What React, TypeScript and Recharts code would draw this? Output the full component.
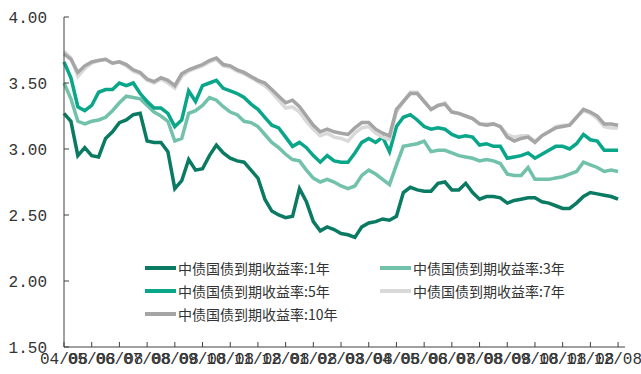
import { Legend, Line, LineChart, XAxis, YAxis } from "recharts";

// month tick labels (one per month, first at index 0)
const monthLabels = [
  "04/08", "05/08", "06/08", "07/08", "08/08", "09/08", "10/08", "11/08", "12/08", "01/08", "02/08",
  "03/08", "04/08", "05/08", "06/08", "07/08", "08/08", "09/08", "10/08", "11/08", "12/08",
];
const yTicks = [1.5, 2, 2.5, 3, 3.5, 4];

// weekly readings (4 per month)
const y1 = [
  3.27, 3.21, 2.95, 3.01, 2.95, 2.94, 3.08, 3.13, 3.2, 3.22, 3.26, 3.27, 3.06, 3.05, 3.05, 2.98, 2.7, 2.76, 2.92, 2.84,
  2.85, 2.95, 3.03, 2.97, 2.93, 2.91, 2.9, 2.84, 2.78, 2.62, 2.53, 2.5, 2.48, 2.49, 2.7, 2.6, 2.45, 2.38, 2.41, 2.39,
  2.36, 2.35, 2.33, 2.41, 2.44, 2.45, 2.47, 2.46, 2.49, 2.67, 2.71, 2.69, 2.68, 2.68, 2.74, 2.75, 2.69, 2.69, 2.74, 2.67,
  2.62, 2.64, 2.64, 2.63, 2.59, 2.61, 2.62, 2.63, 2.63, 2.6, 2.59, 2.57, 2.55, 2.55, 2.59, 2.64, 2.67, 2.66, 2.65, 2.64,
  2.62,
];
const y3 = [
  3.5, 3.38, 3.21, 3.19, 3.21, 3.22, 3.24, 3.29, 3.35, 3.4, 3.39, 3.38, 3.33, 3.28, 3.25, 3.21, 3.06, 3.08, 3.27, 3.29,
  3.33, 3.39, 3.37, 3.32, 3.28, 3.26, 3.21, 3.2, 3.17, 3.11, 3.05, 3.01, 2.96, 2.92, 2.91, 2.84, 2.78, 2.75, 2.77, 2.75,
  2.72, 2.7, 2.72, 2.8, 2.84, 2.81, 2.77, 2.73, 2.88, 3.02, 3.03, 3.04, 3.06, 2.98, 2.99, 2.99, 2.97, 2.95, 2.94, 2.93,
  2.91, 2.92, 2.91, 2.89, 2.81, 2.8, 2.8, 2.86, 2.77, 2.77, 2.77, 2.78, 2.79, 2.81, 2.83, 2.9, 2.88, 2.86, 2.83, 2.84,
  2.83,
];
const y5 = [
  3.66, 3.54, 3.32, 3.29, 3.33, 3.43, 3.45, 3.45, 3.5, 3.48, 3.5, 3.42, 3.36, 3.31, 3.31, 3.27, 3.17, 3.22, 3.44, 3.36,
  3.48, 3.5, 3.52, 3.46, 3.44, 3.42, 3.39, 3.34, 3.3, 3.24, 3.18, 3.16, 3.09, 3.02, 3.05, 3.01, 2.95, 2.9, 2.95, 2.91,
  2.9, 2.9, 2.97, 3.05, 3.08, 3.05, 3.09, 2.98, 3.17, 3.24, 3.26, 3.22, 3.17, 3.15, 3.16, 3.15, 3.11, 3.09, 3.1, 3.09,
  3.03, 3.04, 3.02, 3.02, 2.93, 2.94, 2.95, 2.97, 2.93, 2.96, 2.99, 3.02, 3.02, 3.0, 3.04, 3.11, 3.07, 3.06, 2.99, 2.99,
  2.99,
];
const y7 = [
  3.74, 3.69, 3.55, 3.61, 3.65, 3.67, 3.68, 3.65, 3.66, 3.63, 3.59, 3.57, 3.52, 3.5, 3.53, 3.5, 3.46, 3.55, 3.59, 3.61,
  3.63, 3.66, 3.68, 3.63, 3.62, 3.59, 3.57, 3.54, 3.51, 3.48, 3.43, 3.37, 3.31, 3.32, 3.28, 3.21, 3.15, 3.1, 3.12, 3.09,
  3.08, 3.06, 3.12, 3.16, 3.17, 3.12, 3.09, 3.07, 3.28, 3.36, 3.43, 3.43, 3.36, 3.3, 3.33, 3.35, 3.28, 3.27, 3.25, 3.23,
  3.19, 3.19, 3.19, 3.17, 3.11, 3.09, 3.1, 3.1, 3.06, 3.1, 3.13, 3.17, 3.18, 3.18, 3.24, 3.29, 3.27, 3.23, 3.17, 3.16,
  3.16,
];
const y10 = [
  3.72, 3.68, 3.58, 3.63, 3.66, 3.67, 3.68, 3.65, 3.66, 3.64, 3.6, 3.58, 3.53, 3.51, 3.54, 3.52, 3.48, 3.57, 3.6, 3.62,
  3.64, 3.67, 3.69, 3.64, 3.63, 3.6, 3.58, 3.55, 3.52, 3.5, 3.45, 3.4, 3.35, 3.37, 3.32, 3.25, 3.18, 3.13, 3.15, 3.13,
  3.12, 3.11, 3.16, 3.2, 3.2, 3.15, 3.12, 3.1, 3.3, 3.36, 3.42, 3.42, 3.36, 3.3, 3.33, 3.34, 3.28, 3.27, 3.25, 3.23,
  3.19, 3.18, 3.19, 3.17, 3.09, 3.06, 3.08, 3.09, 3.05, 3.1, 3.13, 3.16, 3.17, 3.18, 3.24, 3.3, 3.28, 3.25, 3.19, 3.19,
  3.18,
];

const data = y1.map((v, i) => ({ t: i / 4, y1: v, y3: y3[i], y5: y5[i], y7: y7[i], y10: y10[i] }));

const series = [
  { key: "y1", name: "中债国债到期收益率:1年", color: "#0b7a63" },
  { key: "y3", name: "中债国债到期收益率:3年", color: "#72c1aa" },
  { key: "y5", name: "中债国债到期收益率:5年", color: "#0aa68a" },
  { key: "y7", name: "中债国债到期收益率:7年", color: "#d9d9d9" },
  { key: "y10", name: "中债国债到期收益率:10年", color: "#a5a5a5" },
];

const tickStyle = { fontFamily: "Liberation Mono, monospace", fontSize: 16, fill: "#333" };

// legend keeps the series order (recharts sorts its payload by name)
function LegendBox() {
  return (
    <div
      style={{
        display: "grid",
        gridTemplateColumns: "235px 235px",
        rowGap: 3,
        fontFamily: "'Noto Sans CJK SC', sans-serif",
        fontSize: 14,
        color: "#333",
      }}
    >
      {series.map((s) => (
        <div key={s.key} style={{ display: "flex", alignItems: "center", height: 20 }}>
          <span style={{ width: 31, height: 4, background: s.color, marginRight: 2, display: "inline-block" }} />
          <span>{s.name}</span>
        </div>
      ))}
    </div>
  );
}

export default function App() {
  return (
    <div style={{ position: "absolute", left: 0, top: 0, background: "#fff" }}>
      <LineChart width={641} height={374} data={data} margin={{ top: 17, right: 16, bottom: 0, left: 0 }}>
        <XAxis
          type="number"
          dataKey="t"
          domain={[0, 20.25]}
          ticks={monthLabels.map((_, i) => i)}
          tickFormatter={(i: number) => monthLabels[i]}
          interval={0}
          height={27}
          tickSize={-5}
          tickMargin={11}
          stroke="#404040"
          tick={tickStyle}
        />
        <YAxis
          type="number"
          domain={[1.5, 4]}
          ticks={yTicks}
          tickFormatter={(v: number) => v.toFixed(2)}
          width={64}
          tickSize={-5}
          tickMargin={22}
          stroke="#404040"
          tick={tickStyle}
        />
        <Legend
          layout="horizontal"
          verticalAlign="middle"
          align="center"
          wrapperStyle={{ left: 145, top: 258, width: 480 }}
          content={<LegendBox />}
        />
        {series.map((s) => (
          <Line
            key={s.key}
            type="linear"
            dataKey={s.key}
            name={s.name}
            stroke={s.color}
            strokeWidth={3.5}
            dot={false}
            isAnimationActive={false}
          />
        ))}
      </LineChart>
    </div>
  );
}
